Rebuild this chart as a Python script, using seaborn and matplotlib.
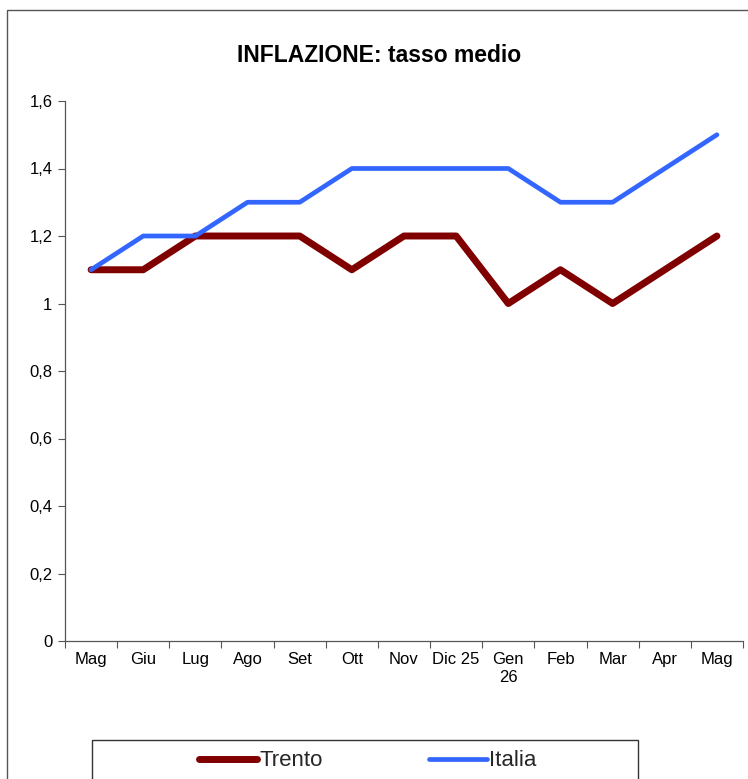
import matplotlib
matplotlib.use("Agg")
import matplotlib.pyplot as plt
from matplotlib.patches import Rectangle
from matplotlib.lines import Line2D
import seaborn as sns
import pandas as pd
import numpy as np

months = ["Mag", "Giu", "Lug", "Ago", "Set", "Ott", "Nov", "Dic 25", "Gen\n26",
          "Feb", "Mar", "Apr", "Mag"]
trento = [1.1, 1.1, 1.2, 1.2, 1.2, 1.1, 1.2, 1.2, 1.0, 1.1, 1.0, 1.1, 1.2]
italia = [1.1, 1.2, 1.2, 1.3, 1.3, 1.4, 1.4, 1.4, 1.4, 1.3, 1.3, 1.4, 1.5]
yticks = [0, 0.2, 0.4, 0.6, 0.8, 1.0, 1.2, 1.4, 1.6]
ylabels = ["0", "0,2", "0,4", "0,6", "0,8", "1", "1,2", "1,4", "1,6"]

sns.set_theme(style="white")
plt.rcParams['font.family'] = ['Liberation Sans', 'DejaVu Sans']

W, H = 748, 779
fig = plt.figure(figsize=(W / 100, H / 100), dpi=100)
ax = fig.add_axes([65 / W, 1 - 641 / H, (743 - 65) / W, (641 - 101) / H])

idx = np.arange(len(months))
df = pd.DataFrame({"idx": np.concatenate([idx, idx]),
                   "val": trento + italia,
                   "serie": ["Trento"] * len(idx) + ["Italia"] * len(idx)})
c_tr, c_it = "#800000", "#3366FF"
sns.lineplot(data=df[df.serie == "Trento"], x="idx", y="val", color=c_tr,
             linewidth=5.0, ax=ax, solid_capstyle="round", legend=False)
sns.lineplot(data=df[df.serie == "Italia"], x="idx", y="val", color=c_it,
             linewidth=3.4, ax=ax, solid_capstyle="round", legend=False)

ax.set_xlim(-0.5, len(months) - 0.5)
ax.set_ylim(0, 1.6)
ax.set_xlabel("")
ax.set_ylabel("")
ax.set_yticks(yticks)
ax.set_yticklabels(ylabels, fontsize=12, color="black")
ax.set_xticks(np.arange(-0.5, len(months)), labels=[""] * (len(months) + 1))
ax.set_xticks(idx, labels=months, minor=True)
ax.tick_params(axis="x", which="minor", length=0, labelsize=12, pad=8, colors="black")
ax.tick_params(axis="x", which="major", length=5, width=0.8, direction="out", color="#555555")
ax.tick_params(axis="y", length=5, width=0.8, direction="out", color="#555555", pad=4)
ax.xaxis.set_ticks_position("bottom")
ax.yaxis.set_ticks_position("left")
for s in ["top", "right"]:
    ax.spines[s].set_visible(False)
for s in ["left", "bottom"]:
    ax.spines[s].set_color("#555555")
    ax.spines[s].set_linewidth(0.9)

fig.text(379 / W, 1 - 56 / H, "INFLAZIONE: tasso medio", ha="center", va="center",
         fontsize=16.5, fontweight="bold", color="black")

# outer border
fig.patches.append(Rectangle((7 / W, -0.1), 1.2, 0.1 + 1 - 10 / H, transform=fig.transFigure,
                             fill=False, edgecolor="#555555", linewidth=1.0))
# legend box
fig.patches.append(Rectangle((92 / W, -0.1), (638 - 92) / W, 0.1 + 1 - 740 / H,
                             transform=fig.transFigure, fill=False,
                             edgecolor="#333333", linewidth=1.0))
handles = [Line2D([], [], color=c_tr, linewidth=5.0, solid_capstyle="round"),
           Line2D([], [], color=c_it, linewidth=3.4, solid_capstyle="round")]
fig.legend(handles, ["Trento", "Italia"], loc="center", ncol=2,
           bbox_to_anchor=(368 / W, 1 - 761 / H), frameon=False, fontsize=16,
           handlelength=2.6, handletextpad=0.1, columnspacing=4.8)

fig.savefig("out.png", dpi=100)
